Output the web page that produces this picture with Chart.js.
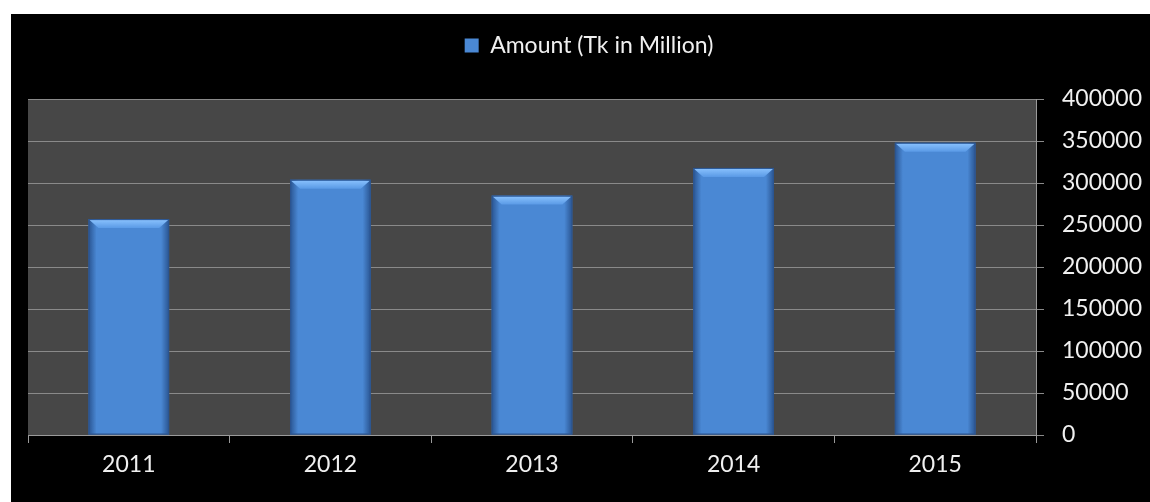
<!DOCTYPE html>
<html>
<head>
<meta charset="utf-8">
<script src="https://cdn.jsdelivr.net/npm/chart.js@4"></script>
<style>
  body { margin: 0; background: #fff; }
  #wrap { position: absolute; left: 11px; top: 14px; width: 1139px; height: 488px; background: #000; }
</style>
</head>
<body>
<div id="wrap"><canvas id="myChart"></canvas></div>
<script>
const years = ["2011", "2012", "2013", "2014", "2015"];
const amounts = [257000, 304000, 285000, 318000, 348000];
const seriesName = "Amount (Tk in Million)";

// fondo gris del area de grafica
const plotBg = {
  id: 'plotBg',
  beforeDraw(chart) {
    const { ctx, chartArea: a } = chart;
    ctx.save();
    ctx.fillStyle = '#474747';
    ctx.fillRect(a.left, a.top, a.right - a.left, a.bottom - a.top);
    ctx.restore();
  }
};

// sombreado tipo bisel en las barras
const bevel = {
  id: 'bevel',
  afterDatasetsDraw(chart) {
    const ctx = chart.ctx;
    chart.getDatasetMeta(0).data.forEach(bar => {
      const l = bar.x - bar.width / 2, r = bar.x + bar.width / 2;
      const t = bar.y, b = bar.base;
      ctx.save();
      const g = ctx.createLinearGradient(l, 0, r, 0);
      g.addColorStop(0, 'rgba(20,50,100,0.6)');
      g.addColorStop(0.1, 'rgba(20,50,100,0.0)');
      g.addColorStop(0.9, 'rgba(20,50,100,0.0)');
      g.addColorStop(1, 'rgba(20,50,100,0.6)');
      ctx.fillStyle = g;
      ctx.fillRect(l, t, r - l, b - t);
      // bisel superior
      const bh = 9;
      const tg = ctx.createLinearGradient(0, t, 0, t + bh);
      tg.addColorStop(0, '#8cc4ff');
      tg.addColorStop(1, '#5a9ae6');
      ctx.fillStyle = tg;
      ctx.beginPath();
      ctx.moveTo(l + 1, t + 1);
      ctx.lineTo(r - 1, t + 1);
      ctx.lineTo(r - 1 - bh, t + bh);
      ctx.lineTo(l + 1 + bh, t + bh);
      ctx.closePath();
      ctx.fill();
      ctx.strokeStyle = '#2c5590';
      ctx.lineWidth = 1;
      ctx.strokeRect(l + 0.5, t + 0.5, r - l - 1, b - t - 1);
      ctx.restore();
    });
  }
};

const ctx = document.getElementById('myChart');
new Chart(ctx, {
  type: 'bar',
  data: {
    labels: years,
    datasets: [{
      label: seriesName,
      data: amounts,
      backgroundColor: '#4a88d4',
      borderWidth: 0,
      barPercentage: 0.8,
      categoryPercentage: 0.5
    }]
  },
  options: {
    responsive: true,
    maintainAspectRatio: false,
    animation: false,
    layout: { padding: { left: 17, right: 0, top: 10, bottom: 0 } },
    plugins: {
      legend: {
        position: 'top',
        labels: {
          color: '#f0f0f0',
          font: { family: 'Lato', size: 23 },
          boxWidth: 14,
          boxHeight: 14,
          padding: 10
        },
        onClick: null
      },
      // espacio vacio entre leyenda y grafica
      title: {
        display: true,
        text: ' ',
        weight: 500,
        font: { size: 10 },
        padding: { top: 10, bottom: 10 }
      },
      tooltip: { enabled: false }
    },
    scales: {
      x: {
        afterFit: s => { s.height = 67; },
        grid: { display: true, drawOnChartArea: false, color: '#9a9a9a', tickLength: 8, offset: true },
        border: { color: '#9a9a9a' },
        ticks: { color: '#f0f0f0', font: { family: 'Lato', size: 23 }, padding: 8 }
      },
      y: {
        position: 'right',
        min: 0,
        max: 400000,
        afterFit: s => { s.width = 114; },
        ticks: {
          stepSize: 50000,
          color: '#f0f0f0',
          font: { family: 'Lato', size: 23 },
          padding: 18,
          callback: v => String(v)
        },
        grid: { color: '#8a8a8a', tickLength: 8 },
        border: { color: '#9a9a9a' }
      }
    }
  },
  plugins: [plotBg, bevel]
});
</script>
</body>
</html>
